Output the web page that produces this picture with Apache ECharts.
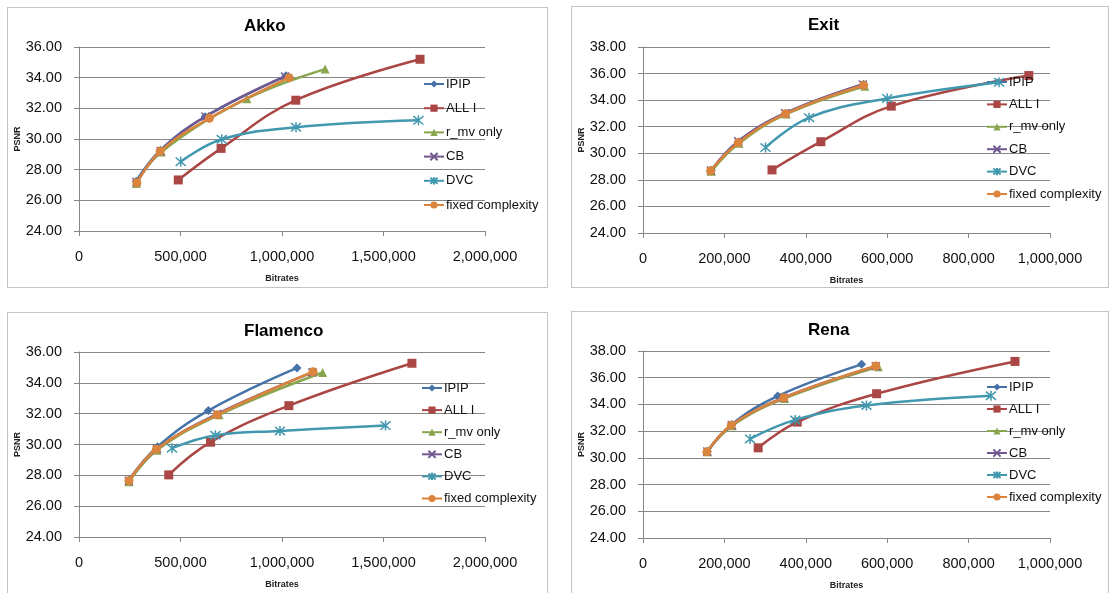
<!DOCTYPE html>
<html lang="en">
<head>
<meta charset="UTF-8">
<title>PSNR vs Bitrates</title>
<script src="https://cdn.jsdelivr.net/npm/echarts@6/dist/echarts.min.js"></script>
<style>
body { margin: 0; width: 1111px; height: 593px; overflow: hidden; position: relative; background: #fff; }
.cc { position: absolute; }
.frame { position: absolute; border: 1px solid #c4c4c4; box-sizing: border-box; pointer-events: none; }
</style>
</head>
<body>
<div class="cc" id="akko" style="left:7px;top:7px;width:541px;height:281px"></div>
<div class="cc" id="exit" style="left:571px;top:6px;width:538px;height:282px"></div>
<div class="cc" id="flamenco" style="left:7px;top:312px;width:541px;height:290px"></div>
<div class="cc" id="rena" style="left:571px;top:311px;width:538px;height:290px"></div>
<div class="frame" style="left:7px;top:7px;width:541px;height:281px"></div>
<div class="frame" style="left:571px;top:6px;width:538px;height:282px"></div>
<div class="frame" style="left:7px;top:312px;width:541px;height:290px"></div>
<div class="frame" style="left:571px;top:311px;width:538px;height:290px"></div>
<script>
// series names, same in every chart
var names = ['IPIP', 'ALL I', 'r_mv only', 'CB', 'DVC', 'fixed complexity'];

// [bitrate, PSNR]
var akkoIPIP  = [[282000, 27.25], [401000, 29.27], [621000, 31.45], [1020000, 34.12]];
var akkoAllI  = [[489000, 27.33], [700000, 29.39], [1068000, 32.53], [1680000, 35.2]];
var akkoRmv   = [[283000, 27.1], [405000, 29.15], [827000, 32.63], [1212000, 34.56]];
var akkoCB    = [[283000, 27.2], [402000, 29.22], [623000, 31.47], [1015000, 34.08]];
var akkoDVC   = [[501000, 28.52], [703000, 29.98], [1069000, 30.77], [1672000, 31.22]];
var akkoFixed = [[285000, 27.15], [400000, 29.2], [642000, 31.35], [1035000, 34.0]];

var exitIPIP  = [[168000, 28.72], [235000, 30.85], [350000, 33.0], [542000, 35.2]];
var exitAllI  = [[317000, 28.75], [437000, 30.87], [610000, 33.55], [948000, 35.85]];
var exitRmv   = [[168000, 28.65], [236000, 30.75], [352000, 32.95], [545000, 35.05]];
var exitCB    = [[167000, 28.7], [234000, 30.9], [349000, 33.02], [540000, 35.18]];
var exitDVC   = [[301000, 30.43], [408000, 32.68], [600000, 34.13], [875000, 35.35]];
var exitFixed = [[166000, 28.68], [234000, 30.8], [350000, 32.97], [542000, 35.12]];

var flamIPIP  = [[246000, 27.7], [386000, 29.85], [637000, 32.2], [1074000, 34.97]];
var flamAllI  = [[442000, 28.03], [648000, 30.15], [1034000, 32.52], [1640000, 35.27]];
var flamRmv   = [[246000, 27.58], [384000, 29.62], [690000, 31.93], [1200000, 34.67]];
var flamCB    = [[246000, 27.65], [384000, 29.72], [680000, 31.98], [1150000, 34.68]];
var flamDVC   = [[458000, 29.76], [672000, 30.6], [990000, 30.88], [1510000, 31.23]];
var flamFixed = [[246000, 27.65], [381000, 29.7], [681000, 31.93], [1153000, 34.72]];

var renaIPIP  = [[158000, 30.5], [218000, 32.5], [331000, 34.63], [537000, 37.0]];
var renaAllI  = [[283000, 30.75], [379000, 32.68], [574000, 34.8], [914000, 37.22]];
var renaRmv   = [[158000, 30.45], [219000, 32.4], [348000, 34.45], [578000, 36.82]];
var renaCB    = [[158000, 30.48], [218000, 32.45], [345000, 34.5], [572000, 36.86]];
var renaDVC   = [[263000, 31.42], [374000, 32.84], [549000, 33.92], [855000, 34.65]];
var renaFixed = [[157000, 30.45], [217000, 32.45], [346000, 34.5], [572000, 36.88]];

var colors = ['#4572A7', '#AA4643', '#89A54E', '#71588F', '#4198AF', '#DB843D'];
var symbols = ['diamond', 'rect', 'triangle',
    'path://M0,0L10,10M10,0L0,10',
    'path://M0,0L10,10M10,0L0,10M5,-1L5,11',
    'circle'];
var symbolSizes = [9, 9, 9, 8, 10, 9];

var font = '"Liberation Sans", Arial, sans-serif';

function makeChart(el, title, data, cfg) {
    var chart = echarts.init(document.getElementById(el));
    var series = data.map(function (d, i) {
        var isPath = symbols[i].indexOf('path') === 0;
        return {
            name: names[i],
            type: 'line',
            smooth: 0.4,
            data: d,
            symbol: symbols[i],
            symbolSize: symbolSizes[i],
            lineStyle: { color: colors[i], width: 2.5 },
            itemStyle: {
                color: colors[i],
                borderColor: colors[i],
                borderWidth: isPath ? 1.5 : 0
            },
            z: 2 + i
        };
    });
    var grid = cfg.grid;
    grid.outerBoundsMode = 'none';
    grid.containLabel = false;
    chart.setOption({
        animation: false,
        title: {
            text: title,
            left: 237,
            top: 11,
            padding: 0,
            textStyle: { fontFamily: font, fontSize: 17, fontWeight: 'bold', color: '#000' }
        },
        legend: {
            orient: 'vertical',
            left: cfg.legendLeft,
            top: cfg.legendTop,
            padding: 0,
            itemGap: cfg.legendGap,
            itemWidth: 20,
            itemHeight: 9,
            data: names,
            textStyle: { fontFamily: font, fontSize: 13, color: '#111', lineHeight: 14, padding: [0, 0, 0, -3] }
        },
        grid: grid,
        xAxis: {
            type: 'value',
            min: 0,
            max: cfg.xMax,
            interval: cfg.xInterval,
            name: 'Bitrates',
            nameLocation: 'middle',
            nameGap: 43.5,
            nameMoveOverlap: false,
            nameTextStyle: { fontFamily: font, fontSize: 9, fontWeight: 'bold', color: '#222' },
            axisLine: { show: true, lineStyle: { color: '#868686', width: 1 } },
            axisTick: { show: true, length: 5, lineStyle: { color: '#868686' } },
            axisLabel: {
                margin: 18,
                fontFamily: font, fontSize: 14.5, color: '#111',
                formatter: function (v) { return v.toLocaleString('en-US'); }
            },
            splitLine: { show: false }
        },
        yAxis: {
            type: 'value',
            min: 24,
            max: cfg.yMax,
            interval: 2,
            name: 'PSNR',
            nameLocation: 'middle',
            nameGap: 57,
            nameMoveOverlap: false,
            nameTextStyle: { fontFamily: font, fontSize: 9, fontWeight: 'bold', color: '#222' },
            axisLine: { show: true, lineStyle: { color: '#868686', width: 1 } },
            axisTick: { show: true, length: 5, lineStyle: { color: '#868686' } },
            axisLabel: {
                margin: 17,
                fontFamily: font, fontSize: 14.5, color: '#111',
                formatter: function (v) { return v.toFixed(2); }
            },
            splitLine: { show: true, lineStyle: { color: '#868686', width: 1 } }
        },
        series: series
    });
    return chart;
}

makeChart('akko', 'Akko',
    [akkoIPIP, akkoAllI, akkoRmv, akkoCB, akkoDVC, akkoFixed],
    { grid: { left: 72, top: 40, width: 406, height: 184 },
      xMax: 2000000, xInterval: 500000, yMax: 36,
      legendLeft: 416, legendTop: 70, legendGap: 10.2 });

makeChart('exit', 'Exit',
    [exitIPIP, exitAllI, exitRmv, exitCB, exitDVC, exitFixed],
    { grid: { left: 72, top: 41, width: 407, height: 186 },
      xMax: 1000000, xInterval: 200000, yMax: 38,
      legendLeft: 415, legendTop: 69, legendGap: 8.4 });

makeChart('flamenco', 'Flamenco',
    [flamIPIP, flamAllI, flamRmv, flamCB, flamDVC, flamFixed],
    { grid: { left: 72, top: 40, width: 406, height: 185 },
      xMax: 2000000, xInterval: 500000, yMax: 36,
      legendLeft: 414, legendTop: 69, legendGap: 8.1 });

makeChart('rena', 'Rena',
    [renaIPIP, renaAllI, renaRmv, renaCB, renaDVC, renaFixed],
    { grid: { left: 72, top: 40, width: 407, height: 187 },
      xMax: 1000000, xInterval: 200000, yMax: 38,
      legendLeft: 415, legendTop: 69, legendGap: 8 });
</script>
</body>
</html>
